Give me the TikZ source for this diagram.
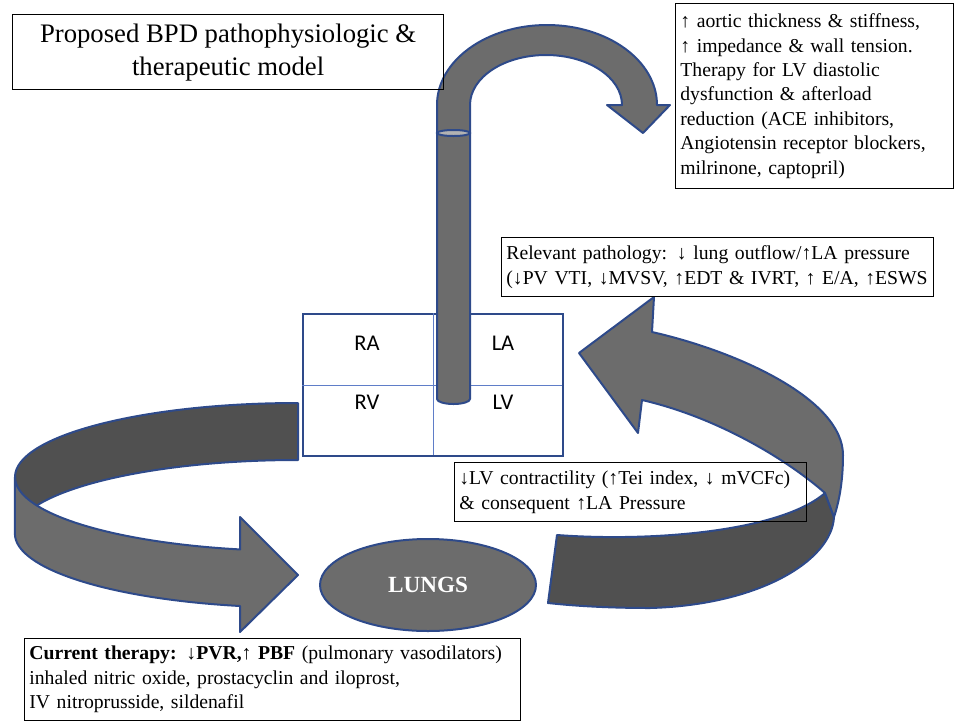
\documentclass[tikz,border=0pt]{standalone}
\usepackage{fontspec}
\setmainfont{Liberation Serif}
\newfontfamily\chamberfont{Carlito}
\usetikzlibrary{shapes.geometric}
\definecolor{edgeblue}{RGB}{46,74,138}
\definecolor{splitblue}{RGB}{95,125,200}
\definecolor{bandgray}{RGB}{108,108,108}
\definecolor{backgray}{RGB}{80,80,80}
\definecolor{capgray}{RGB}{178,178,178}

\begin{document}
\begin{tikzpicture}[x=0.25mm, y=-0.25mm,
  band/.style={fill=bandgray, draw=edgeblue, line width=0.5mm, line join=round},
  backband/.style={fill=backgray, draw=edgeblue, line width=0.5mm, line join=round},
  infobox/.style={draw, line width=0.3mm, anchor=north west, align=left, inner xsep=1.2mm, inner ysep=1mm, font=\fontsize{14}{17.4}\selectfont},
  chamber/.style={font=\chamberfont\fontsize{16}{18}\selectfont}]
\useasboundingbox (0,0) rectangle (956,720);

% left loop: RV -> lungs
\draw[backband] (298,403) arc[start angle=270, end angle=180, x radius=283, y radius=74] -- (15,534)
  arc[start angle=180, end angle=270, x radius=283, y radius=74] -- cycle;
\draw[band] (15,477) arc[start angle=180, end angle=101.8, x radius=283, y radius=74]
  -- (240,517) -- (298,575) -- (240,632) -- (240,606)
  arc[start angle=101.8, end angle=180, x radius=283, y radius=74] -- cycle;

% heart
\node[draw=edgeblue, line width=0.6mm, fill=white, minimum width=65mm, minimum height=35.5mm, inner sep=0, anchor=north west] (heart) at (302,313) {};
\draw[splitblue, line width=0.25mm] (433,313) -- (433,455);
\draw[splitblue, line width=0.25mm] (302,385) -- (562,385);
\node[chamber] (ra) at (367,343) {RA};
\node[chamber] (la) at (503,343) {LA};
\node[chamber] (rv) at (367,402) {RV};
\node[chamber] (lv) at (503,402) {LV};

% aorta
\draw[band] (437,133) -- (437,105) arc[start angle=180, end angle=360, x radius=110, y radius=80]
  -- (670,105) -- (643,133) -- (607,105) -- (622,105)
  arc[start angle=0, end angle=-180, x radius=76, y radius=50] -- (470,133) -- cycle;
\draw[band] (437,133) -- (437,399) arc[start angle=180, end angle=0, x radius=16.5, y radius=5] -- (470,133) -- cycle;
\draw[fill=capgray, draw=edgeblue, line width=0.5mm] (453.5,133) ellipse[x radius=16.5, y radius=3];

% right loop: lungs -> LA
\draw[backband] (557,535) .. controls (650,542) and (780,532) .. (825,493) -- (834,517)
  .. controls (832,560) and (760,605) .. (650,608) .. controls (610,608) and (575,606) .. (548,603) -- cycle;
\draw[band] (652,332) .. controls (740,352) and (843,400) .. (843,455) .. controls (843,485) and (838,505) .. (834,517)
  -- (825,493) .. controls (790,462) and (720,418) .. (642,400) -- (638,433) -- (579,353) -- (654,297) -- cycle;

\node[ellipse, band, minimum width=54mm, minimum height=23mm, text=white, font=\bfseries\fontsize{16.5}{18}\selectfont] (lungs) at (428,585) {LUNGS};

% text boxes
\node[draw, line width=0.3mm, minimum width=107.75mm, minimum height=18.75mm, align=center, anchor=north west, font=\fontsize{19}{23.5}\selectfont] (title) at (12,14) {Proposed BPD pathophysiologic \&\\therapeutic model};
\node[infobox, text width=67.1mm, minimum height=46.25mm] (aortic) at (675,3) {↑ aortic thickness \& stiffness,\\↑ impedance \& wall tension.\\Therapy for LV diastolic\\dysfunction \& afterload\\reduction (ACE inhibitors,\\Angiotensin receptor blockers,\\milrinone, captopril)};
\node[infobox, text width=105.6mm, minimum height=14.75mm] (pathology) at (501,237) {Relevant pathology: ↓ lung outflow/↑LA pressure\\(↓PV VTI, ↓MVSV, ↑EDT \& IVRT, ↑ E/A, ↑ESWS};
\node[infobox, text width=85.6mm, minimum height=14.75mm] (contract) at (454,462) {↓LV contractility (↑Tei index, ↓ mVCFc)\\\& consequent ↑LA Pressure};
\node[infobox, text width=121.6mm, minimum height=20.5mm] (therapy) at (24,638) {\textbf{Current therapy: ↓PVR,↑ PBF} (pulmonary vasodilators)\\inhaled nitric oxide, prostacyclin and iloprost,\\IV nitroprusside, sildenafil};
\end{tikzpicture}
\end{document}
